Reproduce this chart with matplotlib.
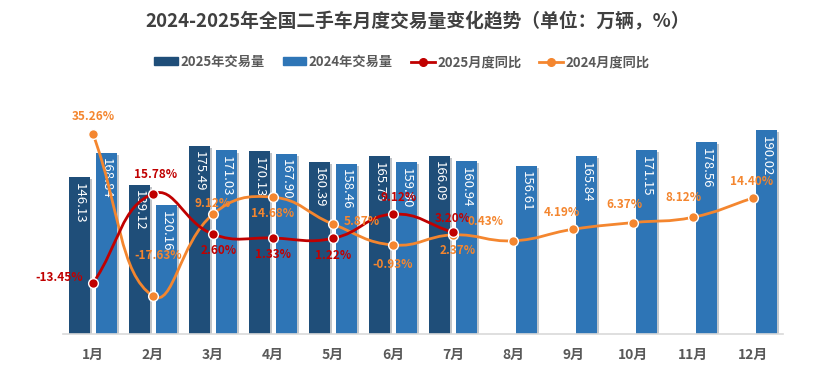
import numpy as np
import matplotlib
matplotlib.use('Agg')
import matplotlib.pyplot as plt
from matplotlib.path import Path
from matplotlib.patches import PathPatch, Patch
from matplotlib.lines import Line2D
import matplotlib.patheffects as pe

plt.rcParams['font.family'] = ['Noto Sans CJK SC', 'DejaVu Sans']

# data
months = ['1月', '2月', '3月', '4月', '5月', '6月', '7月', '8月', '9月', '10月', '11月', '12月']
vol_2025 = [146.13, 139.12, 175.49, 170.13, 160.39, 165.75, 166.09]
vol_2024 = [168.84, 120.16, 171.03, 167.90, 158.46, 159.90, 160.94, 156.61, 165.84, 171.15, 178.56, 190.02]
yoy_2025 = [-13.45, 15.78, 2.60, 1.33, 1.22, 9.12, 3.20]
yoy_2024 = [35.26, -17.63, 9.12, 14.68, 5.87, -0.93, 2.37, 0.43, 4.19, 6.37, 8.12, 14.40]

c25 = '#1F4E79'
c24 = '#2E75B6'
red = '#C00000'
orange = '#F4862F'
gray = '#595959'

fig = plt.figure(figsize=(8.36, 3.91), dpi=100)
ax = fig.add_axes([63 / 836, 57 / 391, 720 / 836, 234 / 391])
ax2 = ax.twinx()

x = np.arange(len(months))
w = 0.35
off = 0.225
shadow = [pe.SimplePatchShadow(offset=(1.5, -1.5), alpha=0.25), pe.Normal()]
b25 = ax.bar(x[:len(vol_2025)] - off, vol_2025, w, color=c25, path_effects=shadow, zorder=2)
b24 = ax.bar(x + off, vol_2024, w, color=c24, path_effects=shadow, zorder=2)

for bars, vals in ((b25, vol_2025), (b24, vol_2024)):
    for b, v in zip(bars, vals):
        ax.annotate(f'{v:.2f}', (b.get_x() + b.get_width() / 2, v), xytext=(0, -4),
                    textcoords='offset points', rotation=-90, ha='center', va='top',
                    color='white', fontsize=9.5, zorder=3)

ax.set_xlim(-0.5, 11.5)
ax.set_ylim(0, 218)
ax2.set_ylim(-30, 46.4)

# echarts-like smoothing, lengths measured in pixels
sx, sy = 60.0, 3.063


def smooth_path(xs, ys, smooth=0.45):
    pts = np.column_stack([xs, ys]).astype(float)
    n = len(pts)
    scale = np.array([sx, sy])
    cp_in = [None] * n
    cp_out = [None] * n
    for i in range(n):
        p = pts[i]
        prv = pts[i - 1] if i > 0 else p
        nxt = pts[i + 1] if i < n - 1 else p
        v = nxt - prv
        l0 = np.hypot(*((p - prv) * scale))
        l1 = np.hypot(*((nxt - p) * scale))
        r = l1 / (l0 + l1)
        cp_out[i] = p + v * smooth * r
        cp_in[i] = p - v * smooth * (1 - r)
    verts = [pts[0]]
    codes = [Path.MOVETO]
    for i in range(n - 1):
        verts += [cp_out[i], cp_in[i + 1], pts[i + 1]]
        codes += [Path.CURVE4] * 3
    return Path(verts, codes)


for vals, col in ((yoy_2024, orange), (yoy_2025, red)):
    xs = x[:len(vals)]
    ax2.add_patch(PathPatch(smooth_path(xs, vals), facecolor='none', edgecolor=col, lw=2.0, zorder=4))
    ax2.plot(xs, vals, 'o', color=col, ms=7, mec='white', mew=1.0, zorder=5)

# label offsets (points)
off25 = [(-24, 4), (2, 14), (4, -12), (0, -12), (0, -12), (4, 12), (0, 10)]
off24 = [(0, 13), (4, 29), (0, 8), (0, -12), (21, 2), (0, -14), (3, -11), (-20, 14), (-8, 12), (-6, 13), (-7, 14), (-1, 12)]
for vals, offs, col in ((yoy_2025, off25, red), (yoy_2024, off24, orange)):
    for i, (v, o) in enumerate(zip(vals, offs)):
        ax2.annotate(f'{v:.2f}%', (i, v), xytext=o, textcoords='offset points',
                     ha='center', va='center', color=col, fontsize=8.5, fontweight='bold', zorder=6)

for a in (ax, ax2):
    for s in a.spines.values():
        s.set_visible(False)
    a.set_yticks([])
ax.spines['bottom'].set_visible(True)
ax.spines['bottom'].set_color('#D9D9D9')
ax.spines['bottom'].set_linewidth(1.2)
ax.set_xticks(x)
ax.set_xticklabels(months, fontsize=10, fontweight='bold', color=gray)
ax.tick_params(axis='x', length=0, pad=10)

fig.text(0.5, 1 - 22 / 391, '2024-2025年全国二手车月度交易量变化趋势（单位：万辆，%）',
         ha='center', va='center', fontsize=13.5, fontweight='bold', color='#404040')

handles = [Patch(color=c25), Patch(color=c24),
           Line2D([], [], color=red, lw=2.0, marker='o', ms=5.5),
           Line2D([], [], color=orange, lw=2.0, marker='o', ms=5.5)]
labels = ['2025年交易量', '2024年交易量', '2025月度同比', '2024月度同比']
leg = fig.legend(handles, labels, loc='center', bbox_to_anchor=(402 / 836, 1 - 62 / 391), ncol=4,
                 frameon=False, handlelength=1.8, handleheight=0.55, handletextpad=0.2,
                 columnspacing=1.35, prop={'size': 9.5, 'weight': 'bold'})
for t in leg.get_texts():
    t.set_color(gray)

fig.savefig('out.png', dpi=100)
